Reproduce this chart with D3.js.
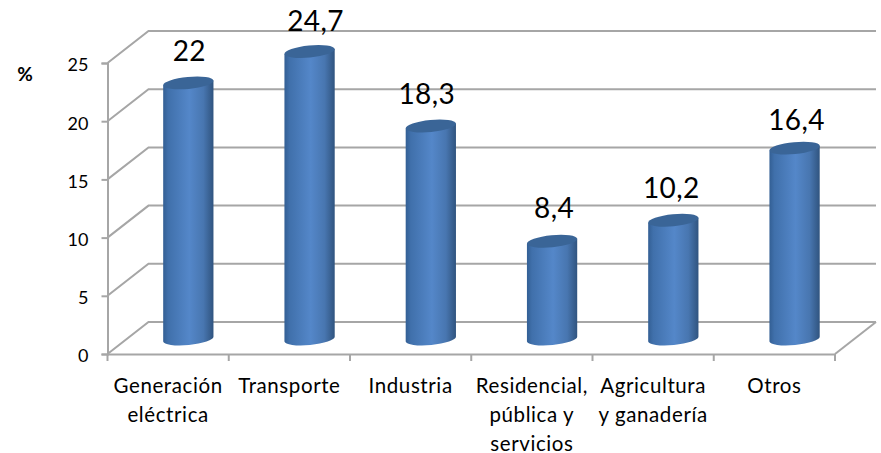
<!DOCTYPE html>
<html>
<head>
<meta charset="utf-8">
<script src="https://cdn.jsdelivr.net/npm/d3@7"></script>
<style>
html, body { margin: 0; padding: 0; background: #fff; }
text { font-family: Lato, "Open Sans", sans-serif; fill: #000; }
</style>
</head>
<body>
<div class="chart"></div>
<script>
var categories = ['Generación\neléctrica', 'Transporte', 'Industria', 'Residencial,\npública y\nservicios', 'Agricultura\ny ganadería', 'Otros'];
var values = [22, 24.7, 18.3, 8.4, 10.2, 16.4];
var valueLabels = ['22', '24,7', '18,3', '8,4', '10,2', '16,4'];
var yTicks = [0, 5, 10, 15, 20, 25];

var width = 881, height = 453;
var depthX = 41, depthY = -32;
var barW = 50.5, ry = 6;
var tilt = 5.5;

// the value labels were dragged by hand in the original chart
var labelShiftX = [1, 6, -4, 2, -2, 2];
var labelGap = [22, 20, 21.5, 23, 22, 18];

var x = d3.scaleBand().domain(categories).range([107.5, 835]);
var y = d3.scaleLinear().domain([0, 25]).range([354, 63]);

var svg = d3.select('.chart').append('svg')
	.attr('width', width).attr('height', height)
	.style('display', 'block');

var grad = svg.append('defs').append('linearGradient').attr('id', 'cyl');
grad.append('stop').attr('offset', '0%').attr('stop-color', '#335f94');
grad.append('stop').attr('offset', '10%').attr('stop-color', '#4070ab');
grad.append('stop').attr('offset', '52%').attr('stop-color', '#5487c9');
grad.append('stop').attr('offset', '80%').attr('stop-color', '#4876b0');
grad.append('stop').attr('offset', '100%').attr('stop-color', '#30547f');

var gridColor = '#a6a6a6';

function barCenter(i) {
	return x(categories[i]) + x.bandwidth() / 2 + depthX / 2 - 0.3;
}
function barY(v) {
	return y(v) + depthY / 2 + 1;
}

// walls and floor
var walls = svg.append('g').attr('fill', 'none').attr('stroke', gridColor).attr('stroke-width', 2);
walls.selectAll('path.grid')
	.data(yTicks)
	.enter()
	.append('path')
	.attr('class', 'grid')
	.attr('d', function(d) {
		var p = d3.path();
		p.moveTo(x.range()[0], y(d));
		p.lineTo(x.range()[0] + depthX, y(d) + depthY);
		p.lineTo(x.range()[1] + depthX, y(d) + depthY);
		return p.toString();
	});
walls.append('path')
	.attr('d', function() {
		var p = d3.path();
		p.moveTo(x.range()[1], y(0));
		p.lineTo(x.range()[1] + depthX, y(0) + depthY);
		return p.toString();
	});

// axes
var yAxis = d3.axisLeft(y).tickValues(yTicks).tickSize(6).tickPadding(13);
var gy = svg.append('g').attr('transform', 'translate(107.5,0)').call(yAxis);
gy.selectAll('text').style('font-size', '18px').attr('dy', '.44em');

var xAxis = d3.axisBottom(x).tickSize(0).tickFormat('');
var gx = svg.append('g').attr('transform', 'translate(0,354)').call(xAxis);
gx.selectAll('.tick').remove();

// tick marks between the categories
gx.selectAll('line.sep')
	.data(categories.concat(['end']))
	.enter()
	.append('line')
	.attr('class', 'sep')
	.attr('x1', function(d, i) { return x.range()[0] + i * x.step(); })
	.attr('x2', function(d, i) { return x.range()[0] + i * x.step(); })
	.attr('y1', 0).attr('y2', 7);

svg.selectAll('.domain, .tick line, line.sep')
	.attr('stroke', gridColor).attr('stroke-width', 2);

// cylinders
var bars = svg.selectAll('g.bar')
	.data(values)
	.enter()
	.append('g')
	.attr('class', 'bar')
	.attr('transform', function(d, i) { return 'translate(' + barCenter(i) + ',0)'; });

var a = tilt * Math.PI / 180;
var dx = barW / 2 * Math.cos(a), dk = barW / 2 * Math.sin(a);

bars.append('path')
	.attr('fill', 'url(#cyl)')
	.attr('d', function(d) {
		var top = barY(d), bot = barY(0);
		return 'M' + (-dx) + ',' + (top + dk) +
			'L' + (-dx) + ',' + (bot + dk) +
			'A' + (barW / 2) + ',' + ry + ' ' + (-tilt) + ' 0 0 ' + dx + ',' + (bot - dk) +
			'L' + dx + ',' + (top - dk) + 'Z';
	});

bars.append('ellipse')
	.attr('rx', barW / 2).attr('ry', ry)
	.attr('fill', '#3a6597')
	.attr('transform', function(d) {
		return 'translate(0,' + barY(d) + ') rotate(' + (-tilt) + ')';
	});

// data labels
svg.selectAll('text.val')
	.data(values)
	.enter()
	.append('text')
	.attr('class', 'val')
	.attr('text-anchor', 'middle')
	.style('font-size', '28px')
	.style('letter-spacing', '0.4px')
	.attr('x', function(d, i) { return barCenter(i) + labelShiftX[i]; })
	.attr('y', function(d, i) { return barY(d) - labelGap[i]; })
	.text(function(d, i) { return valueLabels[i]; });

// category labels
var cat = svg.selectAll('text.cat')
	.data(categories)
	.enter()
	.append('text')
	.attr('class', 'cat')
	.attr('text-anchor', 'middle')
	.style('font-size', '20.5px')
	.style('letter-spacing', '0.6px');
cat.selectAll('tspan')
	.data(function(d, i) { return d.split('\n').map(function(t) { return { t: t, i: i }; }); })
	.enter()
	.append('tspan')
	.attr('x', function(d) { return x(categories[d.i]) + x.bandwidth() / 2; })
	.attr('y', function(d, j) { return 393 + j * 29; })
	.text(function(d) { return d.t; });

svg.append('text')
	.attr('x', 25).attr('y', 81)
	.attr('text-anchor', 'middle')
	.style('font-size', '19px').style('font-weight', 'bold')
	.text('%');
</script>
</body>
</html>
